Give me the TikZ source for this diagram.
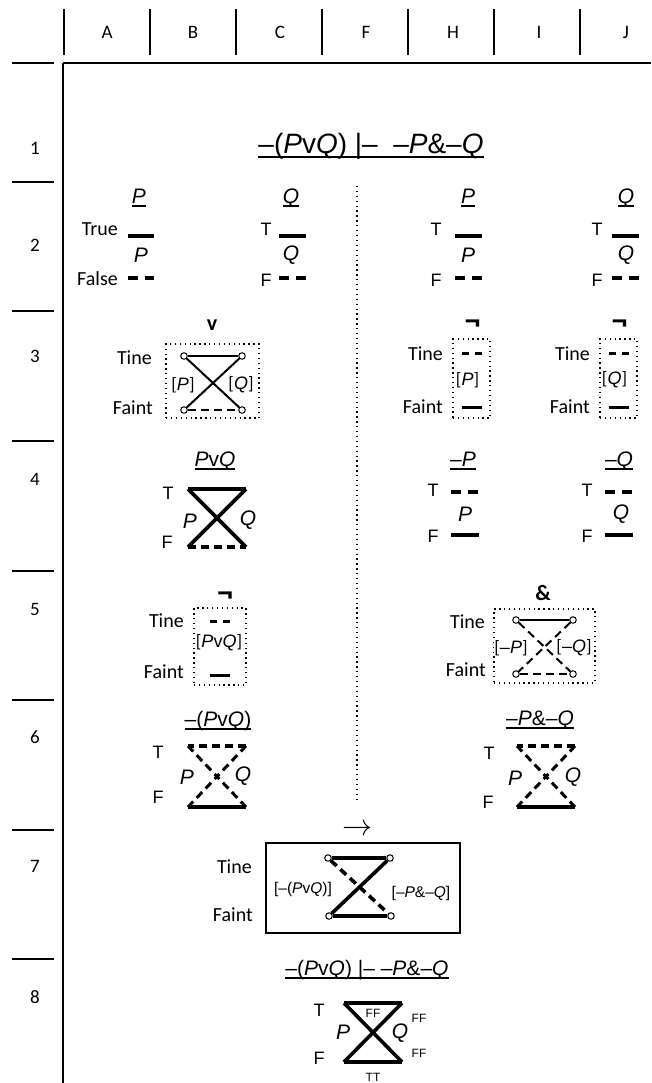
\documentclass[tikz,border=0pt]{standalone}
\usepackage{fontspec}
\setmainfont{Carlito}
\newfontfamily\arialf{Liberation Sans}
\usepackage{tikz}
\newcommand{\ulbar}[1]{\setbox0=\hbox{#1}\rlap{\rule[-0.17em]{\wd0}{0.075em}}\box0}

\begin{document}
\begin{tikzpicture}[x=1pt,y=-1pt,
  gridln/.style={line width=1.6pt},
  barln/.style={line width=3.6pt},
  wireln/.style={line width=2pt},
  dashln/.style={dash pattern=on 8pt off 5pt},
  pairdash/.style={dash pattern=on 10pt off 7pt},
  shortdash/.style={dash pattern=on 7pt off 6pt},
  xdash/.style={line width=3pt, dash pattern=on 8pt off 5pt, dash phase=4.5pt},
  dotln/.style={line width=1.3pt, dash pattern=on 1.3pt off 3.6pt},
  dotbox/.style={draw, dotln, inner sep=0pt},
  pin/.style={circle, draw, line width=1pt, fill=white, inner sep=0pt, minimum size=6.5pt},
  lbl/.style={font=\fontsize{20}{24}\selectfont, inner sep=0pt},
  hdr/.style={font=\fontsize{19}{22}\selectfont, inner sep=0pt},
  opl/.style={font=\bfseries\fontsize{22}{26}\selectfont, inner sep=0pt},
  negl/.style={font=\bfseries\fontsize{32}{34}\selectfont, inner sep=0pt},
  fml/.style={font=\arialf\fontsize{21}{25}\selectfont, inner sep=0pt},
  tfl/.style={font=\arialf\fontsize{18}{21}\selectfont, inner sep=0pt},
  brk/.style={font=\fontsize{18}{22}\selectfont, inner sep=0pt},
  smf/.style={font=\arialf\fontsize{15.5}{18}\selectfont, inner sep=0pt},
  ffl/.style={font=\arialf\fontsize{12}{14}\selectfont, inner sep=0pt}]
\fill[white] (0,0) rectangle (651,1083);
\useasboundingbox (0,0) rectangle (651,1083);

% sheet grid
\foreach \x in {64,150,236,322,408,494,580}
  \draw[gridln] (\x,9) -- (\x,55);
\foreach \l/\x in {A/107,B/193,C/280,F/366,H/453,I/539,J/626}
  \node[hdr] (col\l) at (\x,32) {\l};
\draw[gridln] (63,63) -- (651,63);
\draw[gridln] (63,63) -- (63,1083);
\foreach \y in {63,182,311,441,571,700,830,959}
  \draw[gridln] (12,\y) -- (54,\y);
\foreach \n/\y in {1/148,2/245,3/356,4/479,5/609,6/737,7/866,8/997}
  \node[hdr] (row\n) at (35,\y) {\n};

% row 1
\node[fml, font=\arialf\fontsize{28}{32}\selectfont] (title) at (371,146)
  {\ulbar{–(\textit{P}v\textit{Q}) |–\ \ –\textit{P}\&–\textit{Q}}};
\draw[dotln] (357,186) -- (357,800);

% row 2
\node[fml] (pttl) at (139,198) {\ulbar{\textit{P}}};
\node[lbl, anchor=east] (tru) at (118,229) {True};
\draw[barln] (128,236) -- (154,236);
\node[fml] (pval) at (141,255) {\textit{P}};
\node[lbl, anchor=east] (fls) at (118,279) {False};
\draw[barln, pairdash] (128,278) -- (154,278);
\foreach \tx/\bx/\lx/\v in {266/279/291/Q, 436/455/468/P, 597/612/626/Q} {
  \node[fml] (ttl\tx) at (\lx,198) {\ulbar{\textit{\v}}};
  \node[tfl] (t\tx) at (\tx,229) {T};
  \draw[barln] (\bx,236) -- (\bx+27,236);
  \node[fml] (val\tx) at (\lx,255) {\textit{\v}};
  \node[tfl] (f\tx) at (\tx,280) {F};
  \draw[barln, pairdash] (\bx,278) -- (\bx+27,278);
}

% row 3
\node[opl] (orop) at (212,325) {v};
\node[dotbox, minimum width=93pt, minimum height=74pt] (orbox) at (212.5,381) {};
\node[lbl, anchor=east] (ortine) at (152,358) {Tine};
\node[lbl, anchor=east] (orfaint) at (153,408) {Faint};
\node[pin] (or1) at (184,356) {};
\node[pin] (or2) at (242,356) {};
\node[pin] (or3) at (184,410) {};
\node[pin] (or4) at (242,410) {};
\draw[wireln] (or1) -- (or2);
\draw[wireln] (or1) -- (or4);
\draw[wireln] (or2) -- (or3);
\draw[wireln, dashln] (or3) -- (or4);
\node[brk] (orp) at (183,385) {[{\arialf\textit{P}}]};
\node[brk] (orq) at (241,385) {[{\arialf\textit{Q}}]};

\foreach \cx/\tx/\v in {471.5/443/P, 618.5/590/Q} {
  \node[negl] (neg\v) at (\cx+1,326) {¬};
  \node[dotbox, minimum width=37pt, minimum height=79pt] (negbox\v) at (\cx,378.5) {};
  \node[lbl, anchor=east] (negtine\v) at (\tx,354) {Tine};
  \draw[line width=3pt, shortdash] (\cx-10,353) -- (\cx+10,353);
  \node[brk] (negarg\v) at (\cx-4,380) {[{\arialf\textit{\v}}]};
  \node[lbl, anchor=east] (negfaint\v) at (\tx,407) {Faint};
  \draw[line width=3pt] (\cx-10,407) -- (\cx+10,407);
}

% row 4
\node[fml] (orttl) at (215,461) {\ulbar{\textit{P}v\textit{Q}}};
\node[tfl] (ort) at (168,493) {T};
\node[tfl] (orf) at (167,542) {F};
\coordinate (o1) at (188,489);
\coordinate (o2) at (246,489);
\coordinate (o3) at (188,547);
\coordinate (o4) at (246,547);
\draw[barln] (o1) -- (o2);
\draw[barln] (o1) -- (o4);
\draw[barln] (o2) -- (o3);
\draw[barln, dashln] (o3) -- (o4);
\node[fml] (orpl) at (190,521) {\textit{P}};
\node[fml] (orql) at (248,520) {\textit{Q}};

\foreach \tx/\bx/\lx/\v in {433/451/463/P, 587/605/619/Q} {
  \node[fml] (nttl\v) at (\lx,461) {\ulbar{–\textit{\v}}};
  \node[tfl] (nt\v) at (\tx,490) {T};
  \draw[barln, pairdash] (\bx,492) -- (\bx+28,492);
  \node[fml] (nval\v) at (\lx+2,514) {\textit{\v}};
  \node[tfl] (nf\v) at (\tx,536) {F};
  \draw[barln] (\bx,535) -- (\bx+28,535);
}

% row 5
\node[negl] (nor) at (225,598) {¬};
\node[dotbox, minimum width=52pt, minimum height=77pt] (norbox) at (220,646.5) {};
\node[lbl, anchor=east] (nortine) at (184,621) {Tine};
\draw[line width=3pt, shortdash] (210,621) -- (230,621);
\node[brk] (norarg) at (219,643) {[{\arialf\textit{P}v\textit{Q}}]};
\node[lbl, anchor=east] (norfaint) at (184,672) {Faint};
\draw[line width=3pt] (210,675) -- (230,675);

\node[opl] (andop) at (543,593) {\&};
\node[dotbox, minimum width=101pt, minimum height=74pt] (andbox) at (544.5,646) {};
\node[lbl, anchor=east] (andtine) at (485,622) {Tine};
\node[lbl, anchor=east] (andfaint) at (486,670) {Faint};
\node[pin] (an1) at (516,620) {};
\node[pin] (an2) at (573,620) {};
\node[pin] (an3) at (516,674) {};
\node[pin] (an4) at (573,674) {};
\draw[wireln] (an1) -- (an2);
\draw[wireln, dashln] (an1) -- (an4);
\draw[wireln, dashln] (an2) -- (an3);
\draw[wireln, dashln] (an3) -- (an4);
\node[brk, fill=white] (andp) at (511,648) {[{\arialf–\textit{P}}]};
\node[brk, fill=white] (andq) at (574,648) {[{\arialf–\textit{Q}}]};

% row 6
\node[fml] (norttl) at (218,721) {\ulbar{–(\textit{P}v\textit{Q})}};
\node[tfl] (nort) at (158,752) {T};
\node[tfl] (norf) at (158,797) {F};
\coordinate (d1) at (188,746);
\coordinate (d2) at (246,746);
\coordinate (d3) at (188,807);
\coordinate (d4) at (246,807);
\coordinate (dm) at (217,776.5);
\draw[barln, dashln] (d2) -- (d1);
\draw[barln] (d3) -- (d4);
\foreach \c in {d1,d2,d3,d4}
  \draw[xdash] (dm) -- (\c);
\node[fml] (norpl) at (187,777) {\textit{P}};
\node[fml] (norql) at (243,776) {\textit{Q}};

\node[fml] (andttl) at (540,720) {\ulbar{–\textit{P}\&–\textit{Q}}};
\node[tfl] (andt) at (489,753) {T};
\node[tfl] (andf) at (488,802) {F};
\coordinate (e1) at (517,746);
\coordinate (e2) at (575,746);
\coordinate (e3) at (517,807);
\coordinate (e4) at (575,807);
\coordinate (em) at (546,776.5);
\draw[barln, dashln] (e2) -- (e1);
\draw[barln] (e3) -- (e4);
\foreach \c in {e1,e2,e3,e4}
  \draw[xdash] (em) -- (\c);
\node[fml] (andpl) at (515,778) {\textit{P}};
\node[fml] (andql) at (573,777) {\textit{Q}};

% row 7
\node[font=\fontsize{20.74}{24}\selectfont, scale=1.45, inner sep=0pt] (impl) at (358,830) {$\rightarrow$};
\node[draw, line width=1.4pt, minimum width=194pt, minimum height=90pt] (zbox) at (363,888) {};
\node[lbl, anchor=east] (ztine) at (252,867) {Tine};
\node[lbl, anchor=east] (zfaint) at (253,915) {Faint};
\node[pin] (z1) at (328,858) {};
\node[pin] (z2) at (390,858) {};
\node[pin] (z3) at (329,916) {};
\node[pin] (z4) at (391,916) {};
\draw[barln] (z1) -- (z2);
\draw[barln] (z2) -- (z3);
\draw[barln] (z3) -- (z4);
\draw[barln, dashln] (z1) -- (z4);
\node[smf] (zleft) at (303,889) {[–(\textit{P}v\textit{Q})]};
\node[smf] (zright) at (421,893) {[–\textit{P}\&–\textit{Q}]};

% row 8
\node[fml] (seqttl) at (367,970) {\ulbar{–(\textit{P}v\textit{Q}) |– –\textit{P}\&–\textit{Q}}};
\node[tfl] (seqt) at (319,1010) {T};
\node[tfl] (seqf) at (319,1058) {F};
\coordinate (s1) at (344,1003);
\coordinate (s2) at (402,1003);
\coordinate (s3) at (344,1062);
\coordinate (s4) at (402,1062);
\draw[barln] (s1) -- (s2);
\draw[barln] (s1) -- (s4);
\draw[barln] (s2) -- (s3);
\draw[barln] (s3) -- (s4);
\node[fml] (seqpl) at (343,1032) {\textit{P}};
\node[fml] (seqql) at (400,1033) {\textit{Q}};
\node[ffl] (ff1) at (373,1013) {FF};
\node[ffl] (ff2) at (419,1018) {FF};
\node[ffl] (ff3) at (419,1053) {FF};
\node[ffl] (tt1) at (373,1077) {TT};
\end{tikzpicture}
\end{document}
